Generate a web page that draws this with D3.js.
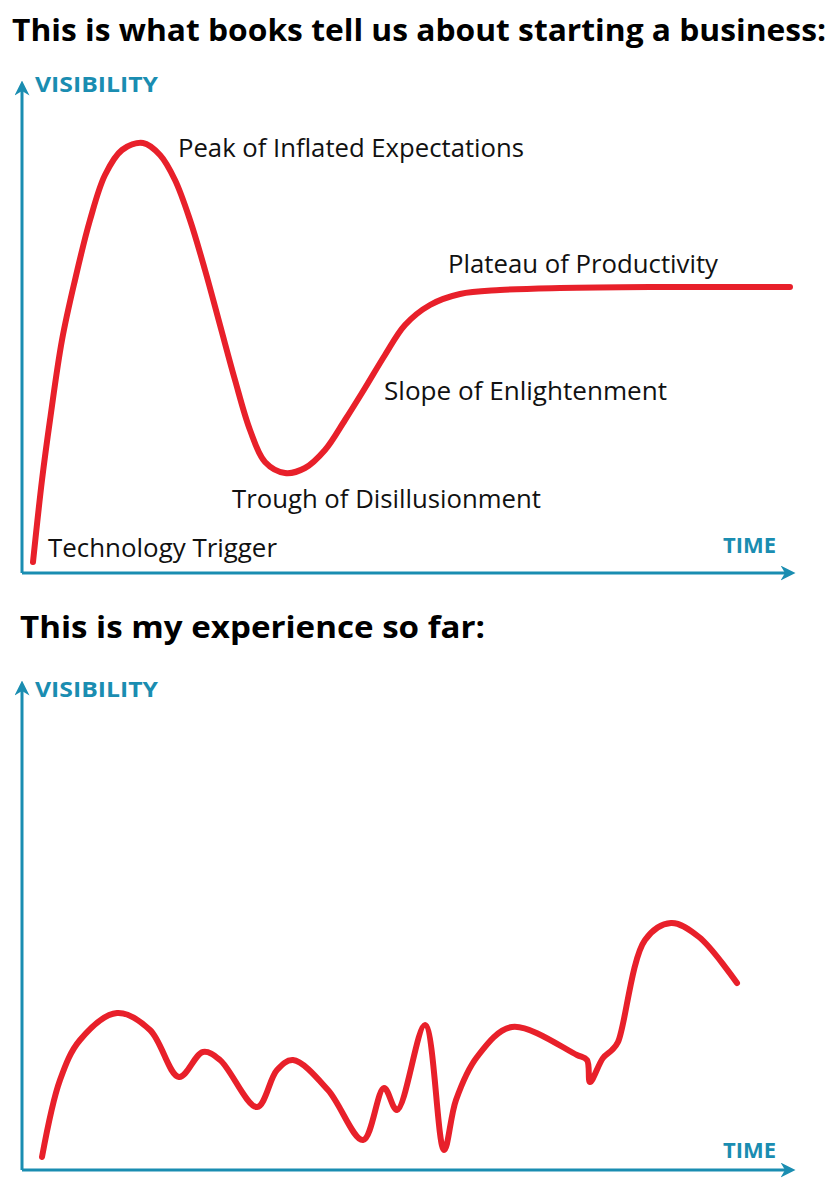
<!DOCTYPE html><html><head><meta charset="utf-8">
<script src="https://cdn.jsdelivr.net/npm/d3@7"></script>
<style>body{margin:0;background:#fff}</style></head><body><svg id="c" width="840" height="1200"></svg>
<script>
// Time / visibility (arbitrary units)
const hypeTime = [11,20,28,40,53,68,83,100,121,138,153,168,183,198,213,228,243,263,283,303,323,343,363,383,408,438,478,538,628,768];
const hypeVis  = [11,93,153,233,293,353,398,423,430,418,393,353,303,248,193,143,111,100,105,123,153,185,218,248,268,279,283,285,286,286];
const hypeLabels = ["Technology Trigger","Peak of Inflated Expectations","Trough of Disillusionment","Slope of Enlightenment","Plateau of Productivity"];
const realTime = [20,38,58,95,128,157,181,198,235,255,271,306,341,362,375,403,422,434,455,490,555,565,568,581,590,596,623,649,677,715];
const realVis  = [13,90,130,157,140,93,118,110,63,100,110,80,30,82,60,145,20,70,113,143,115,110,88,112,120,128,230,247,233,187];

const svg=d3.select("#c");
const teal="#1a8db1", red="#e8202a";
const F="'Open Sans', 'Noto Sans', sans-serif";
svg.append("defs").append("marker").attr("id","ar").attr("viewBox","0 0 10 10").attr("refX",5).attr("refY",5)
 .attr("markerWidth",5).attr("markerHeight",5).attr("orient","auto-start-reverse").attr("markerUnits","strokeWidth")
 .append("path").attr("d","M0,0L10,5L0,10L3,5Z").attr("fill",teal);

function panel(top,bottom,time,vis,title,titleX,titleY,titleW,visY,timeY,curve){
  const x=d3.scaleLinear().domain([0,778]).range([22,800]);
  const y=d3.scaleLinear().domain([0,500]).range([bottom,bottom-500]);
  svg.append("text").attr("x",titleX).attr("y",titleY).attr("font-family",F).attr("font-weight",700).attr("font-size",30)
    .attr("textLength",titleW).attr("lengthAdjust","spacingAndGlyphs").text(title);
  svg.append("line").attr("x1",22).attr("y1",bottom).attr("x2",22).attr("y2",top).attr("stroke",teal).attr("stroke-width",3).attr("marker-end","url(#ar)");
  svg.append("line").attr("x1",22).attr("y1",bottom).attr("x2",788).attr("y2",bottom).attr("stroke",teal).attr("stroke-width",3).attr("marker-end","url(#ar)");
  svg.append("text").attr("x",35).attr("y",visY).attr("fill",teal).attr("font-family",F).attr("font-weight",700).attr("font-size",22)
    .attr("textLength",123).attr("lengthAdjust","spacingAndGlyphs").text("VISIBILITY");
  svg.append("text").attr("x",723).attr("y",timeY).attr("fill",teal).attr("font-family",F).attr("font-weight",700).attr("font-size",22)
    .attr("textLength",53).attr("lengthAdjust","spacingAndGlyphs").text("TIME");
  const pts=time.map((t,i)=>[t,vis[i]]);
  svg.append("path").datum(pts).attr("d",d3.line().x(d=>x(d[0])).y(d=>y(d[1])).curve(curve))
   .attr("fill","none").attr("stroke",red).attr("stroke-width",6).attr("stroke-linecap","round").attr("stroke-linejoin","round");
}
panel(88,573,hypeTime,hypeVis,"This is what books tell us about starting a business:",12,41,814,92,553,d3.curveCatmullRom);
const pos=[[48,557,229],[178,157,346],[232,508,309],[384,400,283],[448,273,270]];
hypeLabels.forEach((l,i)=>svg.append("text").attr("x",pos[i][0]).attr("y",pos[i][1]).attr("font-family",F).attr("font-size",25)
  .attr("textLength",pos[i][2]).attr("lengthAdjust","spacingAndGlyphs").attr("fill","#111").text(l));
panel(688,1170,realTime,realVis,"This is my experience so far:",20,638,465,697,1158,d3.curveCatmullRom);
</script></body></html>
